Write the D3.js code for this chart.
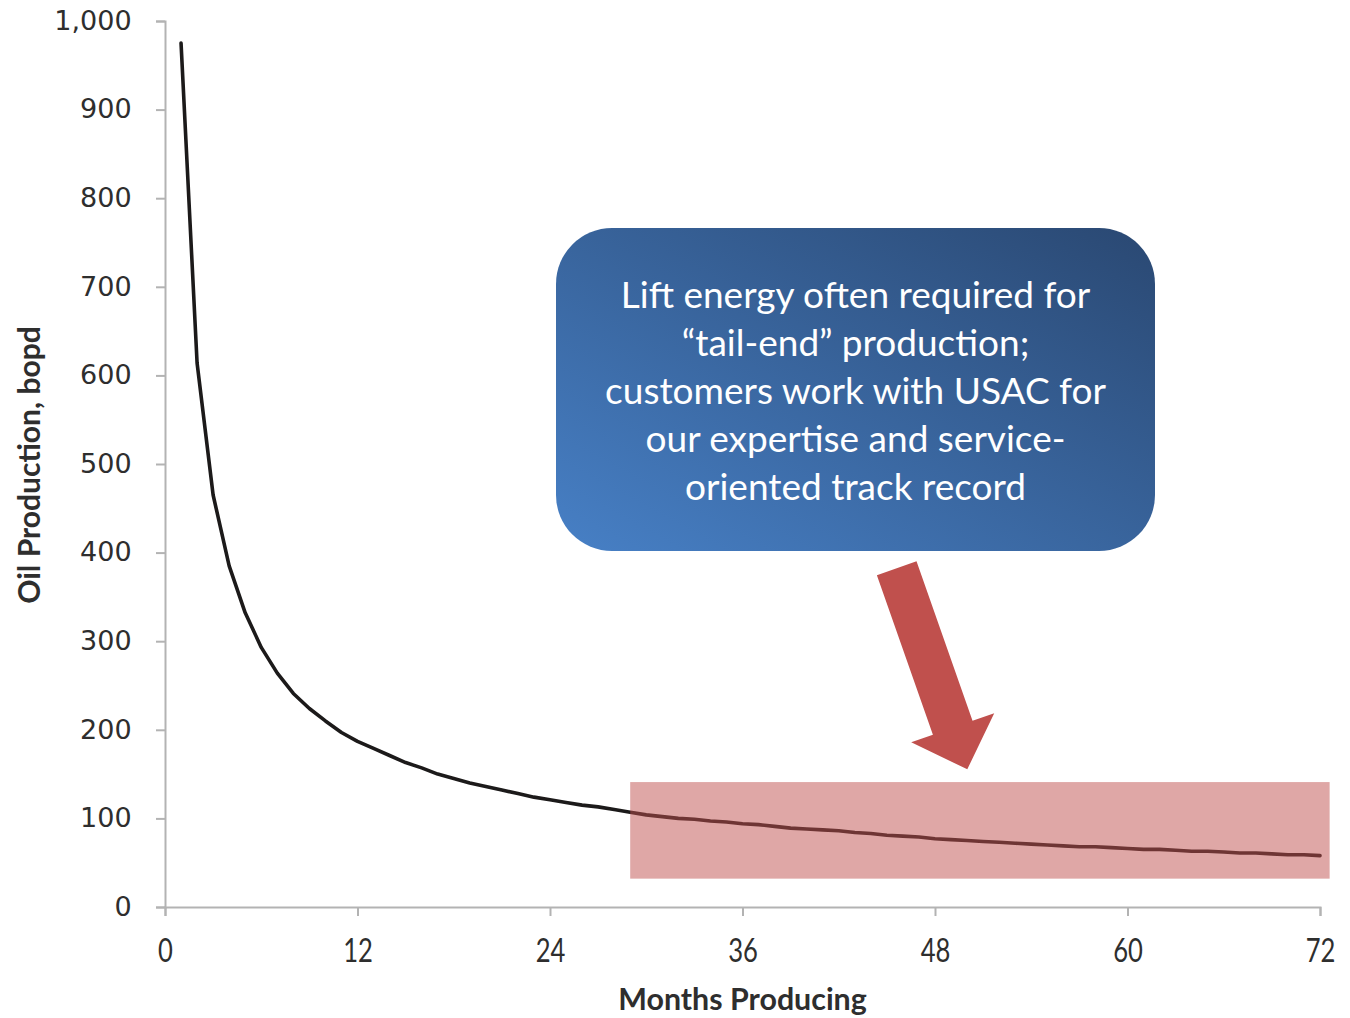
<!DOCTYPE html>
<html>
<head>
<meta charset="utf-8">
<script src="https://cdn.jsdelivr.net/npm/d3@7"></script>
<style>
  html, body { margin: 0; padding: 0; background: #ffffff; }
  svg { display: block; }
</style>
</head>
<body>
<svg id="chart" width="1350" height="1018"></svg>
<script>
// Typical well decline: oil rate by month of production
const months = d3.range(1, 73);
const oilRate = [
  975, 614, 465, 385, 332, 293, 264, 241, 224, 210, 197, 187,
  179, 171, 163, 157, 150, 145, 140, 136, 132, 128, 124, 121,
  118, 115, 113, 110, 107, 104, 102, 100,  99,  97,  96,  94,
   93,  91,  89,  88,  87,  86,  84,  83,  81,  80,  79,  77,
   76,  75,  74,  73,  72,  71,  70,  69,  68,  68,  67,  66,
   65,  65,  64,  63,  63,  62,  61,  61,  60,  59,  59,  58
];
const xTicks = [0, 12, 24, 36, 48, 60, 72];
const yTicks = [0, 100, 200, 300, 400, 500, 600, 700, 800, 900, 1000];

// "tail-end" band: months and rate range it covers
const tailMonths = [29, 72.6];
const tailRates = [32, 141];

const noteLines = [
  "Lift energy often required for",
  "\u201Ctail-end\u201D production;",
  "customers work with USAC for",
  "our expertise and service-",
  "oriented track record"
];

const svg = d3.select("#chart");

const x = d3.scaleLinear().domain([0, 72]).range([165, 1320]);
const y = d3.scaleLinear().domain([0, 1000]).range([907, 21]);

const axisColor = "#b3b3b3";
const labelColor = "#2e2e2e";

// Y axis
const yAxis = svg.append("g")
  .attr("transform", `translate(${x(0)},0)`)
  .call(d3.axisLeft(y).tickValues(yTicks).tickSize(9).tickPadding(23)
    .tickFormat(d3.format(",")));
yAxis.select(".domain").attr("stroke", axisColor).attr("stroke-width", 2);
yAxis.selectAll(".tick line").attr("stroke", axisColor).attr("stroke-width", 2);
yAxis.selectAll(".tick text")
  .attr("fill", labelColor)
  .style("font-family", "'DejaVu Sans', Verdana, sans-serif")
  .style("font-size", "26px")
  .attr("transform", "scale(1.04,1)");

// X axis (labels narrowed horizontally for a condensed look)
const xAxis = svg.append("g")
  .attr("transform", `translate(0,${y(0)})`)
  .call(d3.axisBottom(x).tickValues(xTicks).tickSize(9).tickPadding(23));
xAxis.select(".domain").attr("stroke", axisColor).attr("stroke-width", 2);
xAxis.selectAll(".tick line").attr("stroke", axisColor).attr("stroke-width", 2);
xAxis.selectAll(".tick text")
  .attr("fill", labelColor)
  .style("font-family", "Lato, 'Open Sans', sans-serif")
  .style("font-size", "32px")
  .attr("transform", "scale(0.8,1)");

// Axis titles
svg.append("text")
  .attr("transform", `translate(40,${(y(0) + y(1000)) / 2 + 1}) rotate(-90) scale(0.97,1)`)
  .attr("text-anchor", "middle")
  .attr("fill", labelColor)
  .style("font-family", "Lato, 'Open Sans', sans-serif")
  .style("font-weight", "bold")
  .style("font-size", "31px")
  .text("Oil Production,  bopd");

svg.append("text")
  .attr("transform", `translate(${(x(0) + x(72)) / 2},1010) scale(0.98,1)`)
  .attr("text-anchor", "middle")
  .attr("fill", labelColor)
  .style("font-family", "Lato, 'Open Sans', sans-serif")
  .style("font-weight", "bold")
  .style("font-size", "31px")
  .text("Months  Producing");

// Decline curve
const line = d3.line()
  .x((d, i) => x(months[i]))
  .y(d => y(d));

svg.append("path")
  .datum(oilRate)
  .attr("d", line)
  .attr("fill", "none")
  .attr("stroke", "#1c1a1a")
  .attr("stroke-width", 3.6)
  .attr("stroke-linejoin", "round")
  .attr("stroke-linecap", "round");

// Semi-transparent band over the tail of the curve
svg.append("rect")
  .attr("x", x(tailMonths[0]))
  .attr("y", y(tailRates[1]))
  .attr("width", x(tailMonths[1]) - x(tailMonths[0]))
  .attr("height", y(tailRates[0]) - y(tailRates[1]))
  .attr("fill", "#C0504D")
  .attr("fill-opacity", 0.5);

// Callout box
const defs = svg.append("defs");
const grad = defs.append("linearGradient")
  .attr("id", "noteFill")
  .attr("x1", "0").attr("y1", "1").attr("x2", "1").attr("y2", "0");
grad.append("stop").attr("offset", "0%").attr("stop-color", "#4780c6");
grad.append("stop").attr("offset", "100%").attr("stop-color", "#2a4872");

const box = { x: 556, y: 228, w: 599, h: 323, r: 56 };
svg.append("rect")
  .attr("x", box.x).attr("y", box.y)
  .attr("width", box.w).attr("height", box.h)
  .attr("rx", box.r).attr("ry", box.r)
  .attr("fill", "url(#noteFill)");

const note = svg.append("text")
  .attr("text-anchor", "middle")
  .attr("fill", "#ffffff")
  .style("font-family", "Lato, 'Open Sans', sans-serif")
  .style("font-size", "37px");
noteLines.forEach((s, i) => {
  note.append("tspan")
    .attr("x", box.x + box.w / 2)
    .attr("y", box.y + 80 + i * 48)
    .text(s);
});

// Block arrow pointing down at the band
const arrow = { tail: [896.7, 568.3], tip: [967.3, 769.3], shaft: 42, head: 88, headLen: 44 };
(function drawArrow(a) {
  const dx = a.tip[0] - a.tail[0], dy = a.tip[1] - a.tail[1];
  const len = Math.hypot(dx, dy);
  const ux = dx / len, uy = dy / len;       // along the arrow
  const px = -uy, py = ux;                  // across the arrow
  const base = [a.tip[0] - ux * a.headLen, a.tip[1] - uy * a.headLen];
  const pt = (c, s) => [c[0] + px * s, c[1] + py * s];
  const pts = [
    pt(a.tail, a.shaft / 2),
    pt(base, a.shaft / 2),
    pt(base, a.head / 2),
    a.tip,
    pt(base, -a.head / 2),
    pt(base, -a.shaft / 2),
    pt(a.tail, -a.shaft / 2)
  ];
  svg.append("path")
    .attr("d", d3.line()(pts) + "Z")
    .attr("fill", "#C0504D");
})(arrow);
</script>
</body>
</html>
